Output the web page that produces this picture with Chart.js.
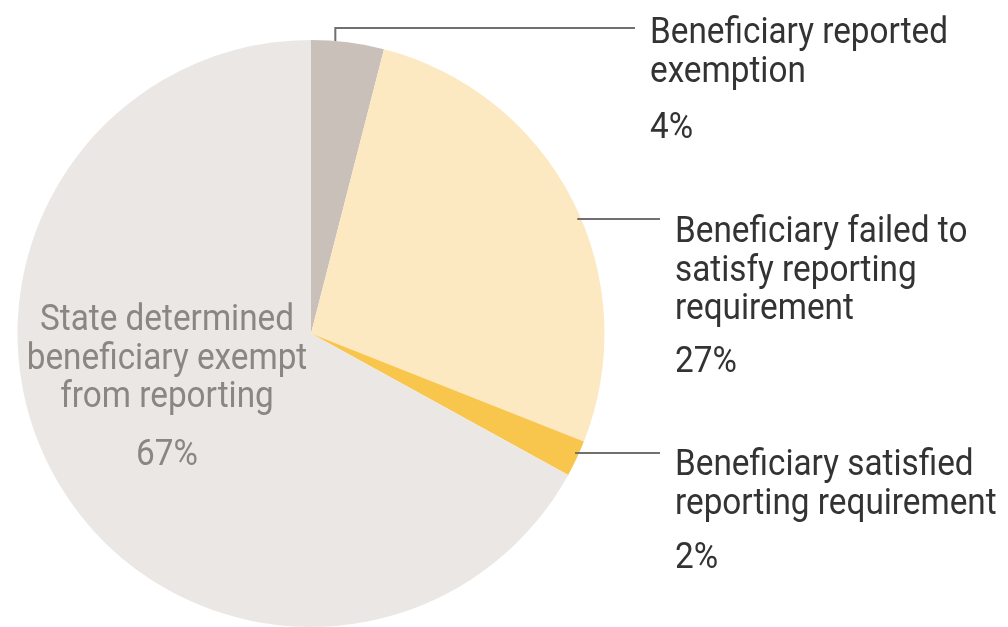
<!DOCTYPE html>
<html>
<head>
<meta charset="utf-8">
<script src="https://cdn.jsdelivr.net/npm/chart.js@4.4.1/dist/chart.umd.min.js"></script>
<style>
  html, body { margin: 0; padding: 0; background: #ffffff; }
  #wrap { width: 1008px; height: 627px; position: relative; }
</style>
</head>
<body>
<div id="wrap"><canvas id="grafica-pie" width="1008" height="627"></canvas></div>
<script>
// Datos
const categorias = [
    ['Beneficiary reported', 'exemption'],
    ['Beneficiary failed to', 'satisfy reporting', 'requirement'],
    ['Beneficiary satisfied', 'reporting requirement'],
    ['State determined', 'beneficiary exempt', 'from reporting']
];
const valores = [4, 27, 2, 67];
const etiquetasPct = ['4%', '27%', '2%', '67%'];
const colores = ['#c9c1b9', '#fde9c1', '#f9c64d', '#ebe7e4'];

const fuente = '37px Roboto, "Open Sans", sans-serif';

// Posiciones de etiquetas (x, baseline de la primera línea, baseline del porcentaje)
const posEtiquetas = [
    { x: 650, y: 43, yPct: 138, lineaY: 28 },
    { x: 675, y: 242, yPct: 372, lineaY: 219 },
    { x: 675, y: 475, yPct: 568, lineaY: 453 },
    { x: 167, y: 330, yPct: 465 }
];

const etiquetasPlugin = {
    id: 'etiquetas',
    afterDraw(chart) {
        const ctx = chart.ctx;
        const meta = chart.getDatasetMeta(0);
        const arco = meta.data[0];
        const cx = arco.x, cy = arco.y, r = arco.outerRadius;
        ctx.save();

        // líneas guía
        ctx.strokeStyle = '#707070';
        ctx.lineWidth = 2;
        // 4%: codo hacia arriba
        const a0 = meta.data[0].startAngle + (meta.data[0].endAngle - meta.data[0].startAngle) * 0.33;
        const x0 = cx + r * Math.cos(a0);
        const y0 = cy + r * Math.sin(a0);
        ctx.beginPath();
        ctx.moveTo(x0, y0);
        ctx.lineTo(x0, posEtiquetas[0].lineaY);
        ctx.lineTo(635, posEtiquetas[0].lineaY);
        ctx.stroke();
        // 27% y 2%: horizontales desde el borde
        [1, 2].forEach(i => {
            const ly = posEtiquetas[i].lineaY;
            const lx = cx + Math.sqrt(r * r - (ly - cy) * (ly - cy));
            ctx.beginPath();
            ctx.moveTo(lx - 4, ly);
            ctx.lineTo(660, ly);
            ctx.stroke();
        });

        // textos (fuente condensada a mano)
        ctx.font = fuente;
        const escala = 298 / ctx.measureText('Beneficiary reported').width;
        ctx.textBaseline = 'alphabetic';
        categorias.forEach((lineas, i) => {
            const p = posEtiquetas[i];
            const izquierda = i === 3;
            ctx.fillStyle = izquierda ? '#8b8681' : '#333333';
            ctx.textAlign = izquierda ? 'center' : 'left';
            const textos = lineas.map((t, j) => [t, p.y + j * 38.5]);
            textos.push([etiquetasPct[i], p.yPct]);
            textos.forEach(([t, y]) => {
                ctx.save();
                ctx.translate(p.x, y);
                ctx.scale(escala, 1);
                ctx.fillText(t, 0, 0);
                ctx.restore();
            });
        });
        ctx.restore();
    }
};

const ctx = document.getElementById('grafica-pie').getContext('2d');
new Chart(ctx, {
    type: 'pie',
    data: {
        labels: categorias.map(l => l.join(' ')),
        datasets: [{
            data: valores,
            backgroundColor: colores,
            borderWidth: 0
        }]
    },
    options: {
        responsive: false,
        animation: false,
        layout: { padding: { left: 17.5, right: 403.5, top: 40, bottom: 0 } },
        plugins: {
            legend: { display: false },
            tooltip: { enabled: false }
        }
    },
    plugins: [etiquetasPlugin]
});
</script>
</body>
</html>
